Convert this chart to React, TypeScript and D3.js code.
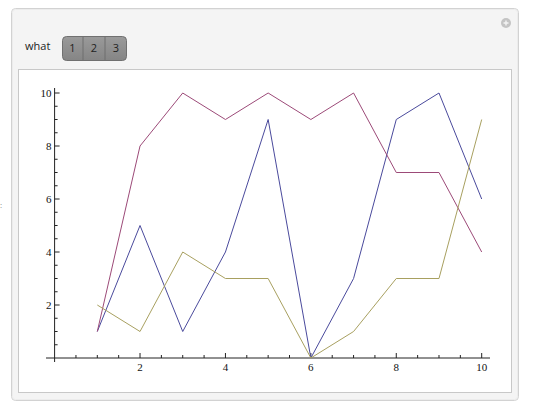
import React from "react";
import * as d3 from "d3";

const xs = [1, 2, 3, 4, 5, 6, 7, 8, 9, 10];
const blueSeries = [1, 5, 1, 4, 9, 0, 3, 9, 10, 6];
const redSeries = [1, 8, 10, 9, 10, 9, 10, 7, 7, 4];
const oliveSeries = [2, 1, 4, 3, 3, 0, 1, 3, 3, 9];
const seriesColors = ["#4a4a9c", "#9c4a78", "#a8a060"];
const buttonLabels = ["1", "2", "3"];
const controlLabel = "what";

export default function App() {
  const x = d3.scaleLinear().domain([0, 10]).range([54.6, 481.7]);
  const y = d3.scaleLinear().domain([0, 10]).range([358, 93]);
  const line = d3
    .line<number>()
    .x((_, i) => x(xs[i]))
    .y((d) => y(d));
  const series = [blueSeries, redSeries, oliveSeries];
  const majors = x.ticks(5).filter((t) => t !== 0);
  const minors = d3.range(0.5, 10.01, 0.5);
  const serif = "'Liberation Serif', 'DejaVu Serif', serif";
  const sans = "'Open Sans', 'DejaVu Sans', sans-serif";
  const btnX = [62, 83, 105, 127];

  return (
    <svg
      width={540}
      height={409}
      style={{ position: "absolute", left: 0, top: 0, background: "#fff" }}
    >
      <defs>
        <linearGradient id="btn" x1="0" y1="0" x2="0" y2="1">
          <stop offset="0" stopColor="#9a9a9a" />
          <stop offset="1" stopColor="#858585" />
        </linearGradient>
      </defs>
      {/* outer panel */}
      <rect x={11.5} y={8.5} width={507} height={392} rx={4} fill="#f4f4f4" stroke="#d2d2d2" />
      <rect x={12.5} y={9.5} width={505} height={390} rx={3} fill="none" stroke="#ececec" />
      {/* plus icon */}
      <circle cx={506} cy={23} r={5} fill="#c4c4c4" />
      <path d="M503.5,23H508.5M506,20.5V25.5" stroke="#f4f4f4" strokeWidth={1.4} />
      {/* control */}
      <text x={25} y={50} fontSize={11} fontFamily={sans} fill="#222">
        {controlLabel}
      </text>
      <rect x={62.5} y={36.5} width={64} height={24} rx={4} fill="url(#btn)" stroke="#707070" />
      {btnX.slice(1, 3).map((bx) => (
        <line key={bx} x1={bx} x2={bx} y1={37} y2={60} stroke="#6e6e6e" />
      ))}
      {buttonLabels.map((b, i) => (
        <text
          key={b}
          x={(btnX[i] + btnX[i + 1]) / 2}
          y={52}
          fontSize={11}
          fontFamily={sans}
          textAnchor="middle"
          fill="#222"
        >
          {b}
        </text>
      ))}
      {/* inner white box */}
      <rect x={18.5} y={69.5} width={493} height={323} fill="#fff" stroke="#c8c8c8" />
      {/* small mark at left edge */}
      <text x={0} y={208} fontSize={8} fontFamily={sans} fill="#888">
        :
      </text>
      {/* axes */}
      <g stroke="#222" strokeWidth={1}>
        <line x1={46} x2={490} y1={y(0)} y2={y(0)} />
        <line x1={x(0)} x2={x(0)} y1={362} y2={88} />
        {minors.map((t) => {
          const major = t % 2 === 0;
          return (
            <g key={t}>
              <line x1={x(t)} x2={x(t)} y1={y(0)} y2={y(0) - (major ? 5 : 3)} />
              <line x1={x(0)} x2={x(0) + (major ? 5 : 3)} y1={y(t)} y2={y(t)} />
            </g>
          );
        })}
      </g>
      {majors.map((t) => (
        <g key={t}>
          <text
            x={x(t)}
            y={y(0) + 13}
            fontSize={11}
            fontFamily={serif}
            textAnchor="middle"
            fill="#111"
          >
            {t}
          </text>
          <text
            x={x(0) - 3}
            y={y(t) + 4}
            fontSize={11}
            fontFamily={serif}
            textAnchor="end"
            fill="#111"
          >
            {t}
          </text>
        </g>
      ))}
      {/* series */}
      {series.map((s, i) => (
        <path key={i} d={line(s) || ""} fill="none" stroke={seriesColors[i]} strokeWidth={1} />
      ))}
    </svg>
  );
}
